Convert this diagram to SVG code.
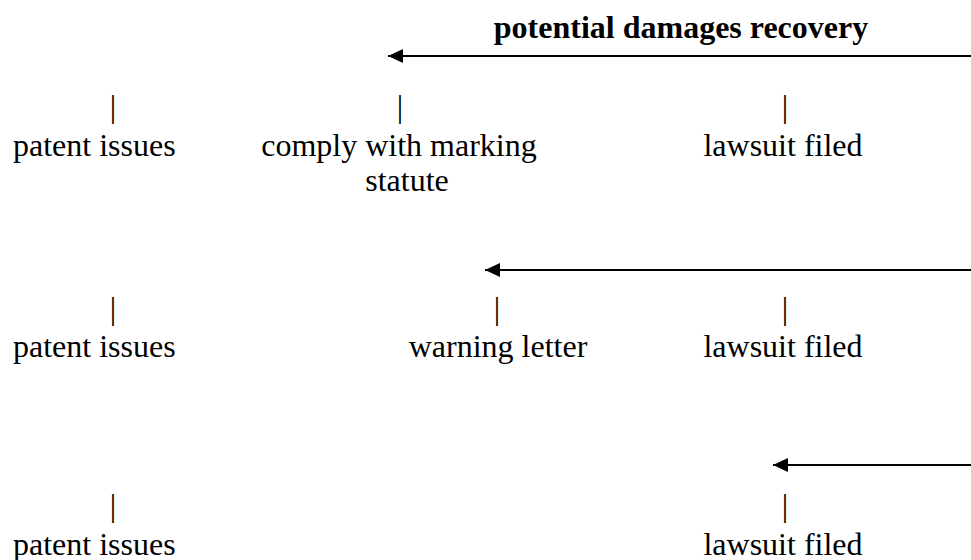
<svg xmlns="http://www.w3.org/2000/svg" width="971" height="560" viewBox="0 0 971 560">
<style>
text{font-family:'Liberation Serif',serif;font-size:32px;fill:#000}
.t{font-weight:bold}
.c{text-anchor:middle}
.arr{stroke:#000;stroke-width:2.2;fill:none;marker-end:url(#ah)}
</style>
<defs>
<marker id="ah" markerUnits="userSpaceOnUse" markerWidth="16" markerHeight="16" refX="15" refY="8" orient="auto">
<path d="M0,1 L15,8 L0,15 Z" fill="#000"/>
</marker>
</defs>
<rect width="971" height="560" fill="#fff"/>
<g font-family="Liberation Serif, serif" font-size="32">
<g id="title"><text class="t c" x="681" y="38">potential damages recovery</text></g>
<g id="connectors">
<path class="arr" d="M971,56 L388,56"/>
<path class="arr" d="M971,270 L485,270"/>
<path class="arr" d="M971,465 L773,465"/>
</g>
<g id="r1-patent"><text class="c" x="113" y="117">|</text><text x="13" y="156">patent issues</text></g>
<g id="r1-comply"><text class="c" x="400" y="117">|</text><text class="c" x="399" y="156">comply with marking</text><text class="c" x="407" y="191">statute</text></g>
<g id="r1-lawsuit"><text class="c" x="785" y="117">|</text><text class="c" x="783" y="156">lawsuit filed</text></g>
<g id="r2-patent"><text class="c" x="113" y="319">|</text><text x="13" y="357">patent issues</text></g>
<g id="r2-warning"><text class="c" x="497" y="319">|</text><text class="c" x="498" y="357">warning letter</text></g>
<g id="r2-lawsuit"><text class="c" x="785" y="319">|</text><text class="c" x="783" y="357">lawsuit filed</text></g>
<g id="r3-patent"><text class="c" x="113" y="516">|</text><text x="13" y="555">patent issues</text></g>
<g id="r3-lawsuit"><text class="c" x="785" y="516">|</text><text class="c" x="783" y="555">lawsuit filed</text></g>
</g>
</svg>
